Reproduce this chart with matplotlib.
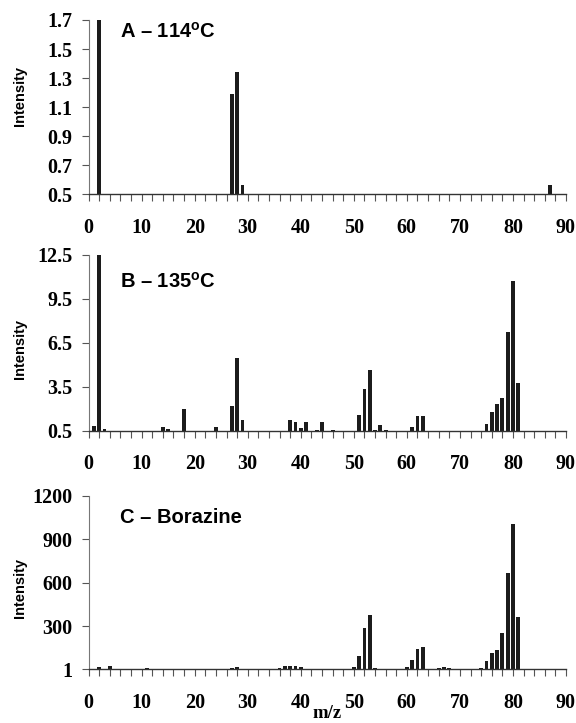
#!/usr/bin/env python3
"""Mass spectra of the vapour at 114 C, 135 C and of borazine (three stacked bar panels)."""
import matplotlib
matplotlib.use("Agg")
import matplotlib.pyplot as plt
from matplotlib.ticker import MultipleLocator

plt.rcParams["mathtext.fontset"] = "custom"
plt.rcParams["mathtext.bf"] = "Liberation Sans:bold"
plt.rcParams["mathtext.rm"] = "Liberation Sans:bold"

# ---- data ----------------------------------------------------------
mz_a = [2, 27, 28, 29, 87]
int_a = [1.72, 1.19, 1.345, 0.565, 0.565]

mz_b = [1, 2, 3, 14, 15, 18, 24, 27, 28, 29, 38, 39, 40, 41, 43, 44, 46,
        51, 52, 53, 54, 55, 56, 61, 62, 63, 75, 76, 77, 78, 79, 80, 81]
int_b = [0.82, 12.6, 0.59, 0.73, 0.64, 1.98, 0.73, 2.21, 5.49, 1.21,
         1.21, 1.11, 0.66, 1.07, 0.55, 1.11, 0.55,
         1.57, 3.32, 4.62, 0.52, 0.86, 0.55, 0.77, 1.52, 1.50,
         0.96, 1.78, 2.32, 2.73, 7.22, 10.7, 3.76]

mz_c = [2, 4, 11, 27, 28, 36, 37, 38, 39, 40, 50, 51, 52, 53, 54,
        60, 61, 62, 63, 66, 67, 68, 74, 75, 76, 77, 78, 79, 80, 81, 82]
int_c = [14, 25, 7, 7, 16, 7, 21, 21, 25, 16, 16, 92, 286, 374, 7,
         16, 62, 143, 154, 12, 14, 7, 12, 57, 112, 135, 252, 667, 1005, 361, 5]

labels = [r"A – 114$^{\mathbf{o}}$C", r"B – 135$^{\mathbf{o}}$C", "C – Borazine"]
yticks = [[0.5, 0.7, 0.9, 1.1, 1.3, 1.5, 1.7],
          [0.5, 3.5, 6.5, 9.5, 12.5],
          [1, 300, 600, 900, 1200]]
ytick_text = [["0.5", "0.7", "0.9", "1.1", "1.3", "1.5", "1.7"],
              ["0.5", "3.5", "6.5", "9.5", "12.5"],
              ["1", "300", "600", "900", "1200"]]
xticks = list(range(0, 91, 10))

W, H = 576, 723
fig = plt.figure(figsize=(W / 100, H / 100), dpi=100)

# axes boxes in pixels: (top, bottom)
boxes = [(20, 194.3), (255, 430.7), (495.7, 669.3)]
x0, x1 = 88.6, 566.0
title_base = [38, 288, 523]      # baseline of the panel captions
ylab_mid = [96, 349, 588]        # centre of the "Intensity" labels

serif = "Liberation Serif"
sans = "Liberation Sans"
bar_col = "#1c1c1c"

for i, (mz, val) in enumerate([(mz_a, int_a), (mz_b, int_b), (mz_c, int_c)]):
    top, bot = boxes[i]
    ax = fig.add_axes([x0 / W, 1 - bot / H, (x1 - x0) / W, (bot - top) / H])
    base = yticks[i][0]
    ax.bar(mz, [v - base for v in val], bottom=base, width=0.72,
           color=bar_col, linewidth=0)
    ax.set_xlim(0, 90)
    ax.set_ylim(yticks[i][0], yticks[i][-1])

    ax.set_yticks(yticks[i])
    ax.set_yticklabels(ytick_text[i], fontfamily=serif, fontweight="bold",
                       fontsize=14.5)
    ax.set_xticks(xticks)
    ax.set_xticklabels([str(t) for t in xticks], fontfamily=serif,
                       fontweight="bold", fontsize=14.5)
    ax.xaxis.set_minor_locator(MultipleLocator(2))
    ax.tick_params(axis="x", which="both", direction="out", length=5,
                   width=0.8, color="#555555", pad=12)
    ax.tick_params(axis="y", direction="out", length=4.8, width=0.8,
                   color="#555555", pad=7)

    for s in ("top", "right"):
        ax.spines[s].set_visible(False)
    ax.spines["left"].set_color("#777777")
    ax.spines["bottom"].set_color("#333333")
    ax.spines["left"].set_linewidth(0.8)
    ax.spines["bottom"].set_linewidth(1.0)

    fig.text(120 / W, 1 - title_base[i] / H, labels[i], fontfamily=sans,
             fontweight="bold", fontsize=14.5, ha="left", va="baseline")
    fig.text(20 / W, 1 - ylab_mid[i] / H, "Intensity", fontfamily=sans,
             fontweight="bold", fontsize=10.5, rotation=90,
             ha="center", va="center")

# x-axis title sits between the "40" and "50" labels, just as in the source
fig.text(327.5 / W, 1 - 722 / H, "m/z", fontfamily=serif, fontweight="bold",
         fontsize=13.5, ha="center", va="bottom")

fig.savefig("out.png", dpi=100)
